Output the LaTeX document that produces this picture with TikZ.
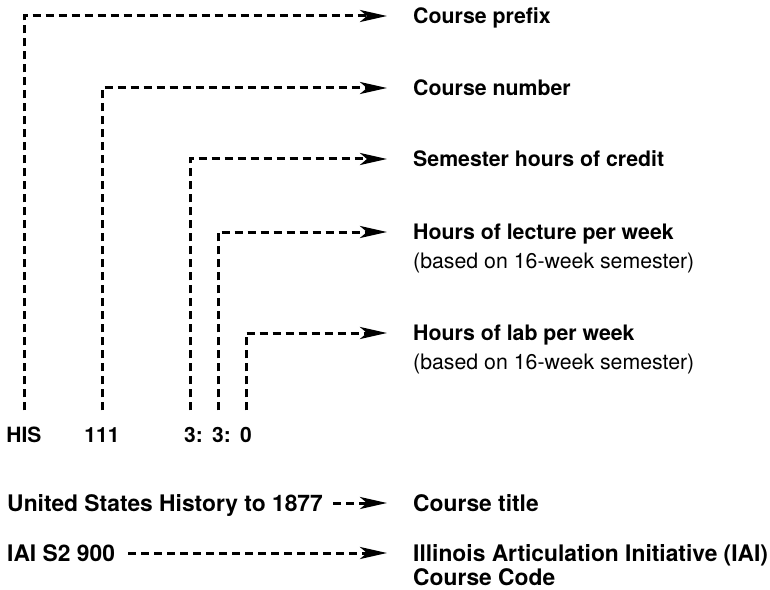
\documentclass[tikz,border=0pt]{standalone}
\usepackage{fontspec}
\setmainfont{TeX Gyre Heros}
\usetikzlibrary{arrows.meta}
\tikzset{
    code/.style = {inner sep=0pt, text height=15bp, text depth=0pt, font=\fontsize{21bp}{26bp}\selectfont\bfseries},
    lbl/.style = {anchor=west, inner sep=0pt, text height=15.3bp, text depth=0pt, font=\fontsize{21.3bp}{26bp}\selectfont\bfseries},
    lbln/.style = {anchor=west, inner sep=0pt, text height=15.3bp, text depth=0pt, font=\fontsize{21.3bp}{26bp}\selectfont},
    lblb/.style = {anchor=west, inner sep=0pt, text height=16.4bp, text depth=0pt, font=\fontsize{22.8bp}{26bp}\selectfont\bfseries},
    edgep/.style = {-{Stealth[length=27bp,width=12bp,inset=7bp]}, line width=3bp, dash pattern=on 8bp off 5bp, shorten >=26bp}, % pointer
}
\begin{document}
\begin{tikzpicture}[x=1bp, y=-1bp]
\useasboundingbox (0,0) rectangle (770,590);
%
\node[code] at (24,435) (his) {HIS};
\node[code] at (102,435) (num) {111};
\node[code] at (190,435) (cred) {3\rlap{:}};
\node[code] at (218,435) (lec) {3\rlap{:}};
\node[code] at (246,435) (lab) {0};
%
\node[lbl] at (413,16) (prefix) {Course prefix};
\node[lbl] at (413,88) (number) {Course number};
\node[lbl] at (413,159) (credit) {Semester hours of credit};
\node[lbl] at (413,232) (lecture) {Hours of lecture per week};
\node[lbln] at (413,261) (lecsub) {(based on 16-week semester)};
\node[lbl] at (413,333) (labhrs) {Hours of lab per week};
\node[lbln] at (413,362) (labsub) {(based on 16-week semester)};
%
\node[lblb] at (7,503) (title) {United States History to 1877};
\node[lblb] at (7,553) (iai) {IAI S2 900};
\node[lblb] at (413,503) (ctitle) {Course title};
\node[lblb] at (413,553) (ccode) {Illinois Articulation Initiative (IAI)};
\node[lblb] at (413,577) (ccode2) {Course Code};
%
\draw[edgep, shorten <=17bp] (his.north) |- (prefix.west);
\draw[edgep, shorten <=17bp] (num.north) |- (number.west);
\draw[edgep, shorten <=17bp] (cred.north) |- (credit.west);
\draw[edgep, shorten <=17bp] (lec.north) |- (lecture.west);
\draw[edgep, shorten <=17bp] (lab.north) |- (labhrs.west);
\draw[edgep, shorten <=10bp] (title.east) -- (ctitle.west);
\draw[edgep, shorten <=13bp] (iai.east) -- (ccode.west);
\end{tikzpicture}
\end{document}
